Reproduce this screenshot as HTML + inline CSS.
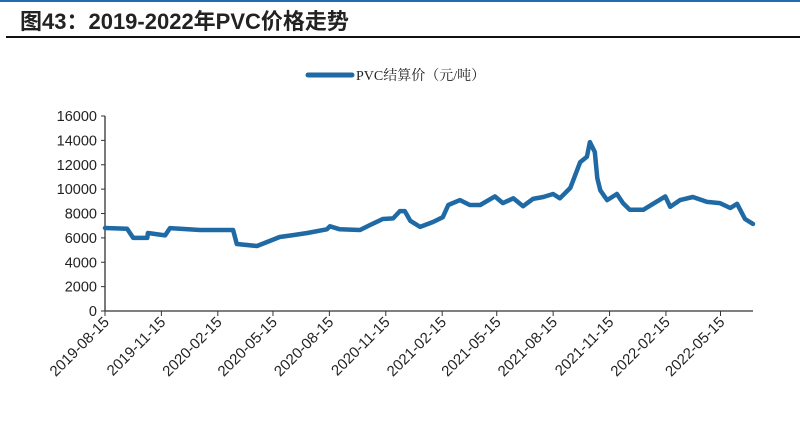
<!DOCTYPE html>
<html><head><meta charset="utf-8"><style>
body{margin:0;background:#fff;width:800px;height:418px;overflow:hidden;font-family:"Liberation Sans","Noto Sans CJK SC",sans-serif}
</style></head><body>
<svg id="chart" width="800" height="418" xmlns="http://www.w3.org/2000/svg">
<rect x="0" y="0" width="800" height="2" fill="#1f6db0"/>
<text x="20" y="29" font-size="22" font-weight="bold" fill="#222" font-family="Liberation Sans, Noto Sans CJK SC, sans-serif">图43：2019-2022年PVC价格走势</text>
<rect x="6" y="36" width="794" height="2" fill="#111"/>
<g>
<line x1="308" y1="75" x2="352" y2="75" stroke="#1f6aa5" stroke-width="5" stroke-linecap="round"/>
<text x="356" y="80" font-size="14" fill="#222" font-family="Liberation Serif, Noto Serif CJK SC, serif">PVC结算价（元/吨）</text>
</g>
<g id="axes"></g>
<g id="marks"></g>
</svg>
<script>
const tickValues=[0,2000,4000,6000,8000,10000,12000,14000,16000];
const tickDates=["2019-08-15","2019-11-15","2020-02-15","2020-05-15","2020-08-15","2020-11-15","2021-02-15","2021-05-15","2021-08-15","2021-11-15","2022-02-15","2022-05-15"];
const dayOffsets=[0,36,46,69,70,98,106,155,171,209,215,248,264,285,307,330,362,367,383,416,432,453,470,481,489,498,514,535,551,560,579,595,612,636,649,666,682,698,715,731,742,759,775,786,791,799,803,808,819,835,845,856,878,894,914,922,938,959,982,1003,1020,1031,1044,1057];
const prices=[6810,6750,6000,6000,6400,6200,6800,6650,6650,6650,5500,5330,5650,6070,6230,6400,6700,6950,6700,6650,7050,7550,7600,8200,8200,7400,6900,7300,7700,8700,9100,8700,8700,9400,8850,9250,8600,9200,9350,9600,9250,10100,12200,12650,13860,13050,10900,9900,9100,9600,8850,8300,8300,8800,9400,8550,9100,9350,8950,8850,8450,8800,7550,7150];
const NS="http://www.w3.org/2000/svg";
const x0=105,x1=753,y0=311,y1=116;
const startMs=Date.UTC(2019,7,15);
const pxPerDay=(x1-x0)/1057;
function xScale(d){return x0+d*pxPerDay;}
function yScale(v){return y0-(v/16000)*(y0-y1);}
function dateToDay(s){const p=s.split('-');return (Date.UTC(+p[0],+p[1]-1,+p[2])-startMs)/86400000;}
function mk(t,a,parent){const e=document.createElementNS(NS,t);for(const k in a)e.setAttribute(k,a[k]);parent.appendChild(e);return e;}
const axes=document.getElementById('axes'),marks=document.getElementById('marks');
const ya=mk('line',{x1:x0,y1:y1,x2:x0,y2:y0,stroke:'#333','stroke-width':1.3},axes);


const xa=mk('line',{x1:x0,y1:y0,x2:x1,y2:y0,stroke:'#333','stroke-width':1.3},axes);


tickValues.forEach(v=>{const y=yScale(v);
 const t=mk('line',{x1:x0-4,y1:y,x2:x0,y2:y,stroke:'#333'},axes);
 
 
 const l=mk('text',{x:x0-8,y:y+5,'text-anchor':'end','font-size':14.5,fill:'#222'},axes);
 l.textContent=v;
 
 
});
tickDates.forEach(s=>{const x=xScale(dateToDay(s));
 const t=mk('line',{x1:x,y1:y0,x2:x,y2:y0+5,stroke:'#333'},axes);
 
 
 const l=mk('text',{x:x+5,y:y0+12,'text-anchor':'end','font-size':15,fill:'#222',transform:'rotate(-45 '+(x+5)+' '+(y0+12)+')'},axes);
 l.textContent=s;
 
 
});
const pts=dayOffsets.map((d,i)=>xScale(d).toFixed(1)+','+yScale(prices[i]).toFixed(1)).join(' ');
const line=mk('polyline',{points:pts,fill:'none',stroke:'#1f6aa5','stroke-width':4.5,'stroke-linejoin':'round','stroke-linecap':'round'},marks);


</script>
</body></html>
